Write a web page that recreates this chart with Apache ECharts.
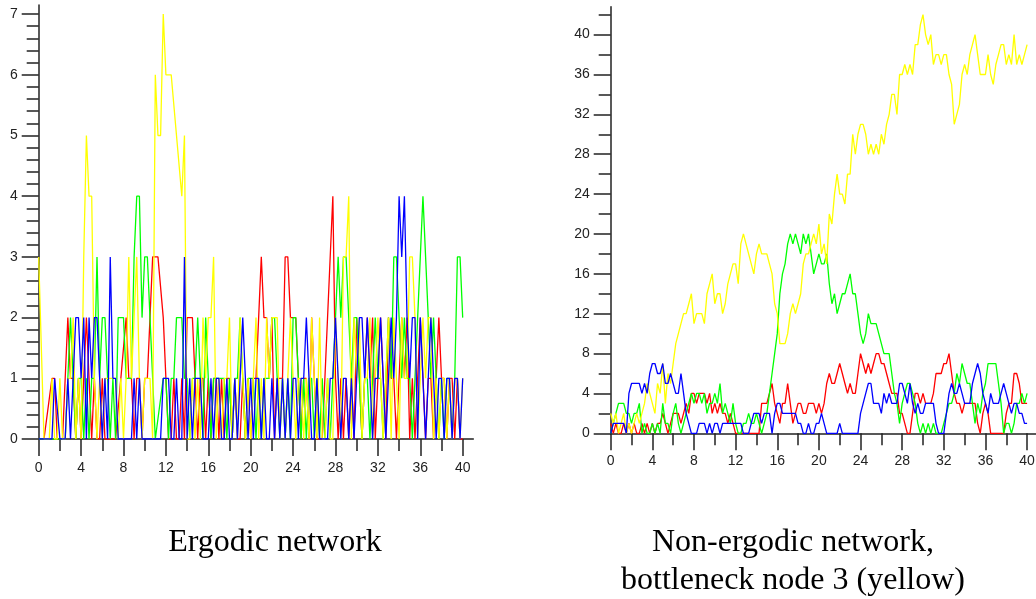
<!DOCTYPE html>
<html>
<head>
<meta charset="utf-8">
<script src="https://cdn.jsdelivr.net/npm/echarts@6/dist/echarts.min.js"></script>
</head>
<body style="margin:0;background:#fff">
<div id="chart" style="width:1036px;height:599px"></div>
<script>
// samples every 0.25 time units, t = 0 .. 40 ; null = no sample (line joins across)
var step = 0.25;

// ---- ergodic network (left) ----
var ergRed = [
  0,0,0,null, null,1,1,0, 0,0,1,2, 1,1,0,1, 0,1,2,1, 0,1,0,0, 1,0,0,0, 0,0,null,null,
  null,2,1,1, 0,1,1,0, 1,1,2,3, 3,3,null,2, 1,0,0,1, 0,0,1,0, 2,2,2,1, 0,1,1,0,
  1,0,1,1, 0,1,0,1, 1,0,1,0, 0,1,0,1, 0,1,1,2, 3,2,2,1, 2,0,1,1, 1,3,3,2,
  2,2,1,0, 1,1,0,2, 1,0,0,0, null,null,null,4, 1,0,1,0, 1,0,1,0, 2,1,0,1, 2,1,2,0,
  1,2,1,0, 2,1,1,0, 1,2,1,2, 0,1,0,1, 2,1,0,1, 1,0,1,2, 1,1,0,1, 1,0,1,0, 0
];
var ergYellow = [
  3,null,0,0, 0,1,0,0, 1,0,0,1, 1,2,0,1, 0,3,5,4, 4,1,0,1, 0,1,1,1, 1,1,0,1,
  0,1,3,1, 2,3,1,0, 1,1,1,0, 6,5,5,7, 6,6,6,null, 5,null,4,5, 0,0,1,0, 1,0,2,1,
  2,2,3,0, 1,0,1,1, 2,0,1,0, 2,1,0,1, 0,1,2,0, 1,0,2,1, 2,2,2,0, 1,0,1,2,
  1,0,1,1, 0,1,0,2, 1,0,2,0, 0,1,0,0, 2,1,0,3, 3,4,0,2, 1,2,0,1, 1,2,0,1,
  2,1,0,1, 2,0,2,1, 0,2,1,1, 3,3,2,0, 1,2,1,2, 2,0,1,0, 1,1,0,1, 0,1,1,0, 1
];
var ergGreen = [
  0,0,0,0, 0,0,0,0, 0,0,0,1, 2,1,0,1, 1,0,1,0, 1,1,3,1, 2,2,1,0, 1,0,2,2,
  2,1,1,1, 3,4,4,2, 3,3,2,1, 0,null,null,1, 1,0,1,1, 2,2,2,1, 1,0,1,1, 2,1,0,2,
  1,0,1,1, 1,1,1,0, 1,0,1,1, 2,1,0,1, 1,1,0,1, 0,1,1,1, 2,2,1,0, 1,0,1,0,
  2,2,1,0, 1,0,1,1, 0,1,0,1, 0,1,0,1, 2,3,2,3, 3,2,1,2, 2,1,0,1, 1,0,1,2,
  1,1,0,1, 2,1,3,3, 2,1,2,1, 1,0,1,2, 3,4,3,2, 1,2,1,0, 1,0,1,1, 0,1,3,3, 2
];
var ergBlue = [
  0,0,0,0, 0,0,1,null, 0,0,0,1, 0,1,2,2, 1,2,0,2, 1,2,2,1, 0,1,0,3, 1,1,0,0,
  0,0,0,0, 1,0,1,0, 0,0,0,0, 0,0,0,1, 1,1,0,0, 1,0,0,3, 0,1,0,1, 1,1,0,0,
  0,1,0,1, 1,0,0,1, 0,0,1,0, 1,2,1,0, 1,0,1,1, 0,1,0,0, 1,0,1,0, 1,0,1,0,
  1,1,0,1, 1,2,1,0, 0,1,0,0, 0,0,1,1, 2,1,0,1, 1,0,1,0, 1,2,2,1, 2,1,0,1,
  1,2,1,0, 1,2,1,2, 4,3,4,2, 1,2,2,0, 2,1,0,1, 2,1,0,1, 1,0,1,1, 0,1,1,0, 1
];

// ---- non-ergodic network (right) ----
var nonRed = [
  1,0,1,0, 0,1,0,1, 0,1,0,0, 1,0,1,0, 1,0,1,1, 2,1,0,1, 2,2,2,1, 2,3,2,4,
  4,3,4,4, 4,3,4,2, 3,2,3,2, 2,1,2,1, 0,0,0,0, 0,0,0,0, 0,0,3,3, 3,4,5,3,
  2,1,3,3, 5,3,1,2, 3,3,2,2, 3,3,3,2, 3,2,3,5, 6,5,5,6, 7,6,5,4, 5,4,4,6,
  8,7,6,7, 6,7,8,8, 7,7,6,5, 4,4,4,2, 2,1,0,0, 2,4,4,3, 4,3,3,3, 4,6,6,6,
  7,7,8,6, 4,3,3,2, 3,3,3,3, 3,1,0,2, 3,2,0,0, 0,0,0,0, 2,3,3,6, 6,5,3,3, 3
];
var nonYellow = [
  2,1,2,0, 1,2,0,1, 0,1,2,1, 2,3,5,4, 3,2,5,4, 7,3,6,5, 7,9,10,11, 12,12,13,14,
  11,12,12,12, 11,14,15,16, 13,14,14,12, 13,15,16,17, 17,15,19,20, 19,18,17,16, 18,19,18,18, 18,17,16,13,
  12,9,9,9, 10,12,13,12, 13,14,17,18, 18,19,20,19, 21,18,19,17, 22,21,24,26, 24,24,23,26, 26,30,28,30,
  31,31,30,28, 29,28,29,28, 30,29,31,32, 34,34,32,36, 36,37,36,37, 36,39,39,41, 42,40,39,40, 37,38,38,37,
  38,38,36,35, 31,32,33,36, 37,36,38,39, 40,38,36,36, 36,38,36,35, 37,38,39,39, 37,38,37,40, 37,38,37,38, 39
];
var nonGreen = [
  0,1,2,3, 3,3,2,2, 1,2,2,3, 0,1,0,0, 1,0,1,0, 3,1,1,0, 2,3,1,0, 1,2,3,4,
  3,4,4,3, 4,2,3,3, 4,3,5,2, 3,2,1,3, 1,0,0,1, 1,2,1,1, 2,1,0,1, 2,4,6,8,
  10,14,16,17, 19,20,19,20, 19,18,20,19, 20,18,16,17, 18,17,17,18, 15,13,14,12, 13,14,14,15, 16,14,14,12,
  10,9,10,12, 11,11,11,10, 9,8,8,8, 6,4,3,1, 3,4,5,5, 4,3,1,0, 1,0,1,0, 1,0,0,0,
  1,2,3,3, 4,6,5,7, 6,5,5,3, 1,3,2,4, 5,7,7,7, 7,5,3,0, 1,1,0,1, 3,3,4,3, 4
];
var nonBlue = [
  0,1,1,1, 1,1,0,4, 5,5,5,5, 4,5,4,6, 7,7,6,6, 7,5,5,6, 5,4,4,6, 4,2,1,0,
  0,0,1,1, 1,0,1,0, 1,1,0,1, 1,1,1,1, 1,1,1,0, 0,0,1,2, 2,2,1,2, 2,2,0,2,
  3,3,2,2, 2,2,2,2, 1,1,0,0, 1,0,0,1, 1,2,1,0, 0,0,0,0, 1,0,0,0, 0,0,0,0,
  2,3,4,5, 5,3,3,3, 2,4,3,4, 3,3,3,5, 5,4,3,5, 3,2,3,2, 2,3,3,3, 3,1,0,0,
  0,2,4,5, 4,4,5,4, 3,3,3,5, 6,7,6,4, 3,2,4,3, 3,3,4,5, 4,3,2,3, 3,2,2,1, 1
];

// tick values
var ergXTicks = [0, 4, 8, 12, 16, 20, 24, 28, 32, 36, 40];
var ergXMinor = [2, 6, 10, 14, 18, 22, 26, 30, 34, 38];
var ergYTicks = [0, 1, 2, 3, 4, 5, 6, 7];
var ergYMinor = [];
for (var k = 0; k < 35; k++) { if (k % 5) ergYMinor.push(+(k * 0.2).toFixed(1)); }
var nonXTicks = [0, 4, 8, 12, 16, 20, 24, 28, 32, 36, 40];
var nonXMinor = [2, 6, 10, 14, 18, 22, 26, 30, 34, 38];
var nonYTicks = [0, 4, 8, 12, 16, 20, 24, 28, 32, 36, 40];
var nonYMinor = [2, 6, 10, 14, 18, 22, 26, 30, 34, 38, 42];

function pairs(vals) {
  return vals.map(function (v, i) { return [i * step, v]; });
}

var axisColor = '#222';
var labelFont = { color: '#222', fontSize: 14, fontFamily: 'Liberation Sans' };
var captionFont = '32px "Liberation Serif"';

function mainAxis(grid, min, max, ticks, pos, margin) {
  return {
    type: 'value', gridIndex: grid, min: min, max: max, position: pos,
    axisLine: { show: true, onZero: false, lineStyle: { color: axisColor, width: 1.5 } },
    axisTick: { show: true, inside: false, length: 17, customValues: ticks,
      lineStyle: { color: axisColor, width: 1.5 } },
    axisLabel: Object.assign({ customValues: ticks, margin: margin }, labelFont),
    splitLine: { show: false }
  };
}
function minorAxis(grid, min, max, ticks, pos) {
  return {
    type: 'value', gridIndex: grid, min: min, max: max, position: pos,
    axisLine: { show: false, onZero: false },
    axisTick: { show: true, inside: false, length: 12, customValues: ticks,
      lineStyle: { color: axisColor, width: 1.5 } },
    axisLabel: { show: false },
    splitLine: { show: false }
  };
}
function line(name, vals, color, xi, yi) {
  return {
    name: name, type: 'line', xAxisIndex: xi, yAxisIndex: yi,
    data: pairs(vals), symbol: 'none', connectNulls: true,
    lineStyle: { color: color, width: 1.3 }, itemStyle: { color: color }
  };
}

var chart = echarts.init(document.getElementById('chart'));
chart.setOption({
  animation: false,
  backgroundColor: '#fff',
  grid: [
    { left: 38.7, top: 5, width: 434.6, height: 434, containLabel: false, outerBoundsMode: 'none' },
    { left: 610.7, top: 6.7, width: 426.8, height: 426.6, containLabel: false, outerBoundsMode: 'none' }
  ],
  xAxis: [
    mainAxis(0, 0, 41, ergXTicks, 'bottom', 22),
    minorAxis(0, 0, 41, ergXMinor, 'bottom'),
    mainAxis(1, 0, 41, nonXTicks, 'bottom', 21),
    minorAxis(1, 0, 41, nonXMinor, 'bottom')
  ],
  yAxis: [
    mainAxis(0, 0, 7.15, ergYTicks, 'left', 21),
    minorAxis(0, 0, 7.15, ergYMinor, 'left'),
    mainAxis(1, 0, 42.8, nonYTicks, 'left', 21),
    minorAxis(1, 0, 42.8, nonYMinor, 'left')
  ],
  series: [
    line('node 1', ergRed, '#ff0000', 0, 0),
    line('node 2', ergGreen, '#00ff00', 0, 0),
    line('node 3', ergYellow, '#ffff00', 0, 0),
    line('node 4', ergBlue, '#0000ff', 0, 0),
    line('node 1', nonRed, '#ff0000', 2, 2),
    line('node 2', nonGreen, '#00ff00', 2, 2),
    line('node 3', nonYellow, '#ffff00', 2, 2),
    line('node 4', nonBlue, '#0000ff', 2, 2)
  ],
  graphic: [
    { type: 'text', x: 275, y: 543, style: { text: 'Ergodic network', fill: '#000',
      font: captionFont, textAlign: 'center', textVerticalAlign: 'middle' } },
    { type: 'text', x: 793, y: 543, style: { text: 'Non-ergodic network,', fill: '#000',
      font: captionFont, textAlign: 'center', textVerticalAlign: 'middle' } },
    { type: 'text', x: 793, y: 581, style: { text: 'bottleneck node 3 (yellow)', fill: '#000',
      font: captionFont, textAlign: 'center', textVerticalAlign: 'middle' } }
  ]
});
</script>
</body>
</html>
